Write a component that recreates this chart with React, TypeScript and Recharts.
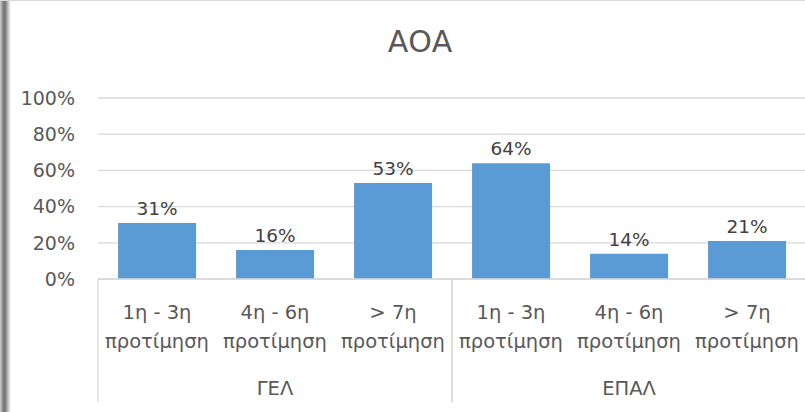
import { BarChart, Bar, XAxis, YAxis, CartesianGrid, LabelList } from 'recharts'

const groups = ['ΓΕΛ', 'ΓΕΛ', 'ΓΕΛ', 'ΕΠΑΛ', 'ΕΠΑΛ', 'ΕΠΑΛ']
const ranks = ['1η - 3η', '4η - 6η', '> 7η', '1η - 3η', '4η - 6η', '> 7η']
const suffix = 'προτίμηση'
const shares = [0.31, 0.16, 0.53, 0.64, 0.14, 0.21]
const yTicks = [0, 0.2, 0.4, 0.6, 0.8, 1]

const chartData = ranks.map((rank, i) => ({
  key: `${groups[i]}-${i}`,
  rank,
  group: groups[i],
  share: shares[i],
}))

const font = '"DejaVu Sans", sans-serif'
const grid = '#d9d9d9'

const pct = (v: number) => `${Math.round(v * 100)}%`

function CategoryTick(props: any) {
  const { x, y, payload, index } = props
  const half = payload.offset ?? 0
  const row = chartData[index]
  const first = index === 0 || groups[index - 1] !== row.group
  const last = index === chartData.length - 1 || groups[index + 1] !== row.group
  const groupMiddle = groups.indexOf(row.group) + Math.floor(groups.filter((g) => g === row.group).length / 2)
  return (
    <g>
      {first && <line x1={x - half} x2={x - half} y1={y} y2={y + 123} stroke={grid} strokeWidth={1.3} />}
      {last && <line x1={x + half} x2={x + half} y1={y} y2={y + 123} stroke={grid} strokeWidth={1.3} />}
      <text x={x} y={y + 40} textAnchor="middle" fill="#595959" fontSize={19.5} fontFamily={font}>
        {row.rank}
      </text>
      <text x={x} y={y + 69} textAnchor="middle" fill="#595959" fontSize={19.5} fontFamily={font}>
        {suffix}
      </text>
      {index === groupMiddle && (
        <text x={x} y={y + 116} textAnchor="middle" fill="#595959" fontSize={19.5} fontFamily={font}>
          {row.group}
        </text>
      )}
    </g>
  )
}

export default function App() {
  return (
    <div style={{ position: 'absolute', left: 0, top: 0, width: 805, height: 412, background: '#fff', overflow: 'hidden' }}>
      <div
        style={{
          position: 'absolute',
          left: 0,
          top: 0,
          width: 11,
          height: 412,
          background: 'linear-gradient(to right, #d0d0d0 0px, #707070 4px, #8a8a8a 6px, #d8d8d8 9px, #ffffff 11px)',
        }}
      />
      <div style={{ position: 'absolute', left: 0, top: 0, width: 805, height: 1, background: '#d9d9d9' }} />
      <div
        style={{
          position: 'absolute',
          left: 0,
          top: 22,
          width: 840,
          textAlign: 'center',
          fontFamily: font,
          fontSize: 30,
          color: '#595959',
          lineHeight: '40px',
        }}
      >
        ΑΟΑ
      </div>
      <BarChart
        width={805}
        height={412}
        data={chartData}
        margin={{ top: 98, right: -1, left: 0, bottom: 0 }}
        barCategoryGap="17%"
        style={{ position: 'absolute', left: 0, top: 0 }}
      >
        <CartesianGrid vertical={false} stroke={grid} strokeWidth={1.3} />
        <XAxis
          dataKey="key"
          interval={0}
          axisLine={{ stroke: grid, strokeWidth: 1.3 }}
          tickLine={false}
          tickSize={0}
          tickMargin={0}
          tick={<CategoryTick />}
          height={133}
        />
        <YAxis
          domain={[0, 1]}
          ticks={yTicks}
          tickFormatter={pct}
          axisLine={false}
          tickLine={false}
          tickSize={0}
          tickMargin={23}
          width={98}
          tick={{ fill: '#595959', fontSize: 19, fontFamily: font }}
        />
        <Bar dataKey="share" fill="#5b9bd5" isAnimationActive={false}>
          <LabelList
            dataKey="share"
            position="top"
            offset={8}
            formatter={(v: any) => pct(Number(v))}
            style={{ fill: '#404040', fontSize: 18.5, fontFamily: font }}
          />
        </Bar>
      </BarChart>
    </div>
  )
}
